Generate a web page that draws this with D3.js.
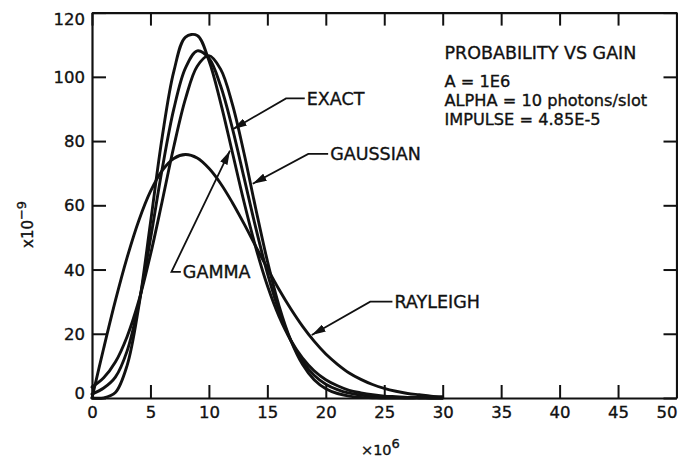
<!DOCTYPE html>
<html><head><meta charset="utf-8">
<script src="https://cdn.jsdelivr.net/npm/d3@7"></script>
<style>
body{margin:0;background:#fff}
svg{display:block}
text{font-family:"DejaVu Sans",sans-serif;fill:#111;stroke:#111;stroke-width:0.35px}
</style>
</head><body>
<svg id="chart" width="678" height="462"></svg>
<script>
// ---- data (gain in units of 1e6, probability in units of 1e-9) ----
const gain = [0,1,2,3,4,5,6,7,8,9,10,11,12,13,14,15,16,17,18,19,20,21,22,23,24,25,26,27,28,29,30];
const exact = [1.2,3.1,6.5,14.6,29.4,49.5,71.2,90.0,102.8,108.1,105.8,97.2,84.1,68.7,53.1,38.9,27.1,18.0,11.5,7.1,4.3,2.6,1.5,0.9,0.5,0.3,0.2,0.1,0.1,0,0];
const gaussian = [3.4,6.3,11.2,19.1,30.2,44.6,61.2,78.3,93.2,103.3,106.6,102.4,91.6,76.3,59.1,42.7,28.7,18.0,10.5,5.7,2.9,1.4,0.6,0.2,0.1,0,0,0,0,0,0];
const gammaDist = [0,0.05,1.7,10.1,28.5,54.5,81.1,101.7,112.4,112.9,105.1,92.0,76.6,61.1,47.0,35.0,25.4,18.0,12.5,8.5,5.7,3.8,2.4,1.6,1.0,0.6,0.4,0.2,0.15,0.1,0.05];
const rayleigh = [0,15.5,30.3,43.7,55.2,64.3,70.8,74.6,75.8,74.7,71.5,66.8,60.9,54.3,47.3,40.4,33.8,27.8,22.4,17.7,13.7,10.5,7.8,5.8,4.2,3.0,2.1,1.4,1.0,0.6,0.4];

const xTicks = [0,5,10,15,20,25,30,35,40,45,50];
const yTicks = [0,20,40,60,80,100,120];

const infoTitle = "PROBABILITY VS GAIN";
const infoLines = ["A = 1E6", "ALPHA = 10 photons/slot", "IMPULSE = 4.85E-5"];

// callout labels: arrow tip and elbow in data units
const calloutNames = ["EXACT", "GAUSSIAN", "GAMMA", "RAYLEIGH"];
const calloutTips = [[12.05, 83.7], [13.75, 66.7], [11.8, 77.0], [18.8, 19.6]];
const calloutElbows = [[16.6, 93.3], [18.5, 76.0], [6.8, 39.3], [23.8, 30.0]];
const calloutEnds = [[18.2, 93.3], [20.2, 76.0], [7.6, 39.3], [25.7, 30.0]];

// ---- drawing ----
const svg = d3.select("#chart");
const W = 678, H = 462;
const m = {left: 92, right: 1.5, top: 12.6, bottom: 64};
const x = d3.scaleLinear().domain([0, 50]).range([m.left, W - m.right]);
const y = d3.scaleLinear().domain([0, 120]).range([H - m.bottom, m.top]);

const ink = "#111";

// axes
const gB = svg.append("g").attr("transform", `translate(0,${y(0)})`)
  .call(d3.axisBottom(x).tickValues(xTicks).tickSizeInner(-13).tickSizeOuter(0).tickPadding(8));
const gT = svg.append("g").attr("transform", `translate(0,${y(120)})`)
  .call(d3.axisTop(x).tickValues(xTicks).tickSizeInner(-13).tickSizeOuter(0).tickFormat(""));
const gL = svg.append("g").attr("transform", `translate(${x(0)},0)`)
  .call(d3.axisLeft(y).tickValues(yTicks).tickSizeInner(-14).tickSizeOuter(0).tickPadding(7));
const gR = svg.append("g").attr("transform", `translate(${x(50)},0)`)
  .call(d3.axisRight(y).tickValues(yTicks).tickSizeInner(-13).tickSizeOuter(0).tickFormat(""));

[gB, gT, gL, gR].forEach(g => {
  g.select(".domain").attr("stroke", ink).attr("stroke-width", 2.2);
  g.selectAll(".tick line").attr("stroke", ink).attr("stroke-width", 2);
  g.selectAll("text").attr("fill", ink).style("font-size", "16.5px").attr("font-family", null);
});
gB.selectAll(".tick text").attr("dx", d => d === 50 ? -10 : 0);
gL.selectAll(".tick text").attr("dy", d => d === 120 ? "0.75em" : (d === 0 ? "0" : "0.34em"));

// curves
const line = d3.line().x((d) => x(d[0])).y(d => y(d[1])).curve(d3.curveCatmullRom.alpha(0.5));
const seriesList = [exact, gaussian, gammaDist, rayleigh];
svg.append("g").selectAll("path.curve").data(seriesList).join("path")
  .attr("class", "curve")
  .attr("d", s => line(gain.map((g, i) => [g, Math.max(0, s[i])])))
  .attr("fill", "none").attr("stroke", ink).attr("stroke-width", 2.9)
  .attr("stroke-linejoin", "round").attr("stroke-linecap", "round");

// arrow marker
svg.append("defs").append("marker")
  .attr("id", "ah").attr("markerUnits", "userSpaceOnUse")
  .attr("viewBox", "0 0 14 8").attr("refX", 14).attr("refY", 4)
  .attr("markerWidth", 14).attr("markerHeight", 8).attr("orient", "auto")
  .append("path").attr("d", "M0,0 L14,4 L0,8 Z").attr("fill", ink);

// callouts
const co = svg.append("g");
calloutNames.forEach((name, i) => {
  const [tx, ty] = calloutTips[i], [ex, ey] = calloutElbows[i], [nx, ny] = calloutEnds[i];
  co.append("path")
    .attr("d", `M${x(nx)},${y(ny)} L${x(ex)},${y(ey)} L${x(tx)},${y(ty)}`)
    .attr("fill", "none").attr("stroke", ink).attr("stroke-width", 1.8)
    .attr("marker-end", "url(#ah)");
  co.append("text").attr("x", x(nx) + 2).attr("y", y(ny)).attr("dy", "0.36em")
    .style("font-size", "17.5px").text(name);
});

// info block
const info = svg.append("g").attr("transform", `translate(${x(30.15)},0)`);
info.append("text").attr("y", y(105.5)).style("font-size", "17.5px").text(infoTitle);
infoLines.forEach((t, i) => {
  info.append("text").attr("y", y(96.7 - i * 5.8)).style("font-size", "16.2px").text(t);
});

// axis unit labels
const xl = svg.append("text").attr("x", 361).attr("y", 455).style("font-size", "14.5px");
xl.append("tspan").text("×10");
xl.append("tspan").attr("dy", -7).style("font-size", "13px").text("6");

const yl = svg.append("text").attr("transform", "translate(33,248) rotate(-90)").style("font-size", "15px");
yl.append("tspan").text("x10");
yl.append("tspan").attr("dy", -7).style("font-size", "13px").text("−9");
</script>
</body></html>
